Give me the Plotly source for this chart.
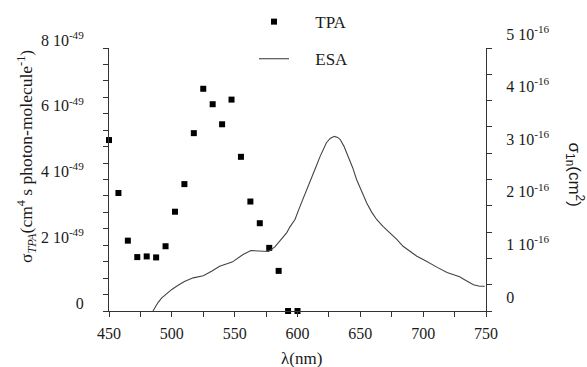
import plotly.graph_objects as go

# ---- data (TPA in units of 1e-49 cm^4 s photon-molecule^-1, ESA in units of 1e-16 cm^2)
wl_tpa = [450, 457.5, 465, 472.5, 480, 487.5, 495, 502.5, 510, 517.5, 525,
          532.5, 540, 547.5, 555, 562.5, 570, 577.5, 585, 592.5, 600]
tpa = [5.20, 3.59, 2.14, 1.64, 1.66, 1.63, 1.97, 3.02, 3.86, 5.41, 6.76,
       6.29, 5.68, 6.43, 4.69, 3.33, 2.67, 1.92, 1.22, 0.0, 0.0]

wl_esa = [485, 487, 489, 492, 496, 500, 505, 510, 517, 525, 532, 538, 548, 557,
          563, 570, 577, 582, 587, 591.5, 594, 598, 602, 606, 610, 614, 618, 623,
          626, 629.3, 632, 634, 637, 640.5, 644, 647, 651, 655, 659, 663, 668,
          673.6, 679, 684, 690, 695, 700, 705, 712, 719, 724, 729, 734, 740, 745, 749]
esa = [0.0, 0.08, 0.16, 0.25, 0.33, 0.41, 0.49, 0.56, 0.63, 0.67, 0.76, 0.85, 0.93, 1.08,
       1.15, 1.14, 1.13, 1.22, 1.36, 1.49, 1.60, 1.74, 1.99, 2.22, 2.44, 2.70, 2.94, 3.20,
       3.28, 3.32, 3.30, 3.26, 3.13, 2.94, 2.72, 2.50, 2.27, 2.06, 1.88, 1.74, 1.61,
       1.49, 1.36, 1.23, 1.12, 1.04, 0.98, 0.92, 0.82, 0.73, 0.69, 0.65, 0.58, 0.50, 0.47, 0.47]

x_tickvals = [450, 500, 550, 600, 650, 700, 750]
x_ticktext = ["450", "500", "550", "600", "650", "700", "750"]
x_minorvals = [475, 525, 575, 625, 675, 725]
y1_tickvals = [0, 2, 4, 6, 8]
y1_ticktext = ["0", "2 10<sup>-49</sup>", "4 10<sup>-49</sup>", "6 10<sup>-49</sup>", "8 10<sup>-49</sup>"]
y1_minorvals = [i * 0.5 for i in range(17)]
y2_tickvals = [0, 1, 2, 3, 4, 5]
y2_ticktext = ["0", "1 10<sup>-16</sup>", "2 10<sup>-16</sup>", "3 10<sup>-16</sup>",
               "4 10<sup>-16</sup>", "5 10<sup>-16</sup>"]
y2_minorvals = [i * 0.5 for i in range(11)]

FONT = "Liberation Serif"
INK = "#1a1a1a"
AX = "#333333"

fig = go.Figure()
fig.add_trace(go.Scatter(
    x=wl_tpa, y=tpa, mode="markers", name="\u00a0" * 5 + "TPA", legendgroup="a",
    marker=dict(symbol="square", size=6, color="black"),
    cliponaxis=False, yaxis="y"))
fig.add_trace(go.Scatter(
    x=wl_esa, y=esa, mode="lines", name="\u00a0" * 5 + "ESA", legendgroup="b",
    line=dict(color="#444444", width=1.1), yaxis="y2"))

axis_common = dict(showgrid=False, zeroline=False, showline=True, linecolor=AX,
                   linewidth=1, ticks="outside", ticklen=5, tickcolor=AX,
                   tickfont=dict(family=FONT, size=16, color=INK))

def minor(vals):
    return dict(tickmode="array", tickvals=vals, ticks="outside", ticklen=5, tickcolor=AX,
                showgrid=False)

fig.update_layout(
    width=587, height=367,
    margin=dict(l=109, r=101, t=48, b=56, autoexpand=False),
    paper_bgcolor="white", plot_bgcolor="white",
    showlegend=True,
    legend=dict(x=0.3846, y=1.167, xanchor="left", yanchor="top",
                font=dict(family=FONT, size=17, color=INK),
                itemwidth=30, traceorder="grouped", tracegroupgap=12,
                bgcolor="rgba(0,0,0,0)"),
    xaxis=dict(range=[450, 750], tickmode="array", tickvals=x_tickvals, ticktext=x_ticktext,
               minor=minor(x_minorvals), ticklabelstandoff=3, **axis_common),
    yaxis=dict(range=[0, 8], tickmode="array", tickvals=y1_tickvals, ticktext=y1_ticktext,
               minor=minor(y1_minorvals),
               ticklabelshift=-8, ticklabelstandoff=16, **axis_common),
    yaxis2=dict(range=[0, 5], overlaying="y", side="right", tickmode="array",
                tickvals=y2_tickvals, ticktext=y2_ticktext, minor=minor(y2_minorvals),
                ticklabelshift=-14, ticklabelstandoff=11, **axis_common),
    annotations=[
        dict(text="λ(nm)", xref="paper", yref="paper", x=0.511, y=-0.182,
             xanchor="center", yanchor="middle", showarrow=False,
             font=dict(family=FONT, size=17, color=INK)),
        dict(text="σ<sub><i>TPA</i></sub>(cm<sup>4</sup> s photon-molecule<sup>-1</sup>)",
             xref="paper", yref="paper", x=-0.219, y=0.587, textangle=-90,
             xanchor="center", yanchor="middle", showarrow=False,
             font=dict(family=FONT, size=17.5, color=INK)),
        dict(text="σ<sub>1n</sub>(cm<sup>2</sup>)",
             xref="paper", yref="paper", x=1.236, y=0.519, textangle=90,
             xanchor="center", yanchor="middle", showarrow=False,
             font=dict(family="Liberation Sans", size=17, color=INK)),
    ],
)

fig.write_html("out.html", config={"displayModeBar": False},
               post_script="document.body.style.margin='0';")
